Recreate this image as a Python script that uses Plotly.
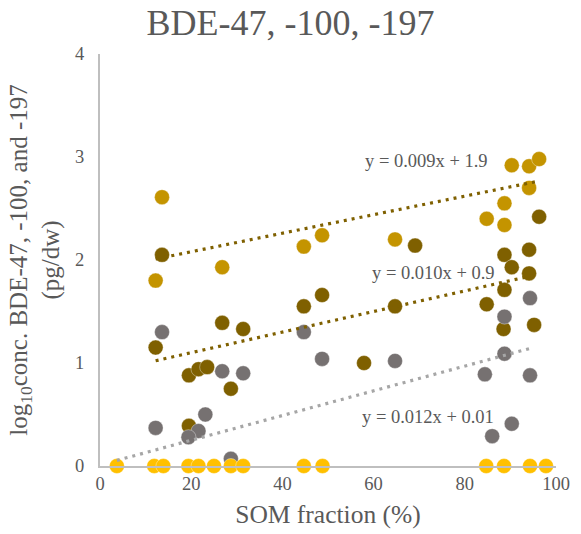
import plotly.graph_objects as go

# SOM fraction (%) and log10 concentrations for each congener
bde100_x = [13.6, 12.2, 26.8, 44.7, 48.7, 64.7, 90.3, 94.1, 96.3, 94.1, 88.7, 84.8, 88.7]
bde100_y = [2.61, 1.80, 1.93, 2.13, 2.24, 2.20, 2.92, 2.91, 2.98, 2.70, 2.55, 2.40, 2.34]

bde47_x = [13.6, 12.2, 26.8, 31.4, 19.5, 21.6, 23.5, 28.7, 19.5, 44.7, 48.7, 57.9,
           64.7, 69.1, 96.3, 94.1, 88.7, 90.3, 94.1, 88.7, 84.8, 88.5, 95.2]
bde47_y = [2.05, 1.15, 1.39, 1.33, 0.88, 0.94, 0.96, 0.75, 0.39, 1.55, 1.66, 1.00,
           1.55, 2.14, 2.42, 2.10, 2.05, 1.93, 1.87, 1.71, 1.57, 1.33, 1.37]

bde197_x = [13.6, 26.8, 31.4, 12.2, 23.1, 21.6, 19.4, 28.7, 44.7, 48.7, 64.7,
            94.3, 88.7, 88.7, 84.4, 94.3, 90.3, 86.0]
bde197_y = [1.30, 0.92, 0.90, 0.37, 0.50, 0.34, 0.28, 0.07, 1.30, 1.04, 1.02,
            1.63, 1.45, 1.09, 0.89, 0.88, 0.41, 0.29]

nd_x = [3.7, 11.9, 13.9, 19.4, 21.6, 25.0, 28.7, 31.4, 44.7, 48.8, 84.7, 88.6, 94.3, 97.8]
nd_y = [0] * len(nd_x)

# Linear trend lines: (slope, intercept, x start, x end, label)
trends = [
    (0.009, 1.9, 12.2, 96.3, "y = 0.009x + 1.9"),
    (0.010, 0.9, 12.2, 95.2, "y = 0.010x + 0.9"),
    (0.012, 0.01, 3.7, 94.3, "y = 0.012x + 0.01"),
]
trend_colors = ["#7F6000", "#7F6000", "#A6A6A6"]
label_pos = [(71.5, 2.96), (73.2, 1.87), (72.0, 0.48)]

FONT = "Liberation Serif, Times New Roman, serif"
TXT = "#595959"

fig = go.Figure()

def add_points(xs, ys, color, name):
    fig.add_trace(go.Scatter(
        x=xs, y=ys, mode="markers", name=name, cliponaxis=False,
        marker=dict(size=15, color=color, line=dict(width=0.6, color="rgba(255,255,255,0.6)")),
    ))

add_points(bde100_x, bde100_y, "#C49400", "BDE-100")
add_points(bde47_x, bde47_y, "#7F6000", "BDE-47")
add_points(bde197_x, bde197_y, "#767171", "BDE-197")
add_points(nd_x, nd_y, "#FFC000", "n.d.")

for (m, b, x0, x1, lab), col, (lx, ly) in zip(trends, trend_colors, label_pos):
    fig.add_trace(go.Scatter(
        x=[x0, x1], y=[m * x0 + b, m * x1 + b], mode="lines", cliponaxis=False,
        line=dict(color=col, width=3.2, dash="3px,5px"), showlegend=False,
    ))
    fig.add_annotation(x=lx, y=ly, text=lab, showarrow=False,
                       font=dict(family=FONT, size=18.5, color=TXT))

fig.update_layout(
    width=581, height=534,
    margin=dict(l=100, r=25, t=54, b=68),
    paper_bgcolor="white", plot_bgcolor="white",
    showlegend=False,
    title=dict(text="BDE-47, -100, -197", x=0.5, xanchor="center", y=0.958, yanchor="middle",
               font=dict(family=FONT, size=36, color=TXT)),
    font=dict(family=FONT, color=TXT),
)
fig.update_xaxes(
    range=[0, 100], tickvals=[0, 20, 40, 60, 80, 100], showgrid=False, zeroline=False,
    showline=True, linecolor="#BFBFBF", linewidth=2, ticks="", automargin=False,
    tickfont=dict(family=FONT, size=18.5, color=TXT),
    title=dict(text="SOM fraction (%)", font=dict(family=FONT, size=25.5, color=TXT), standoff=12),
)
fig.update_yaxes(
    range=[0, 4], tickvals=[0, 1, 2, 3, 4], showgrid=False, zeroline=False,
    showline=True, linecolor="#BFBFBF", linewidth=2, ticks="", automargin=False,
    tickfont=dict(family=FONT, size=18.5, color=TXT), ticklabelstandoff=10,
    title=dict(text="log<sub>10</sub>conc. BDE-47, -100, and -197<br>(pg/dw)",
               font=dict(family=FONT, size=25, color=TXT), standoff=8),
)

fig.write_html("out.html")
